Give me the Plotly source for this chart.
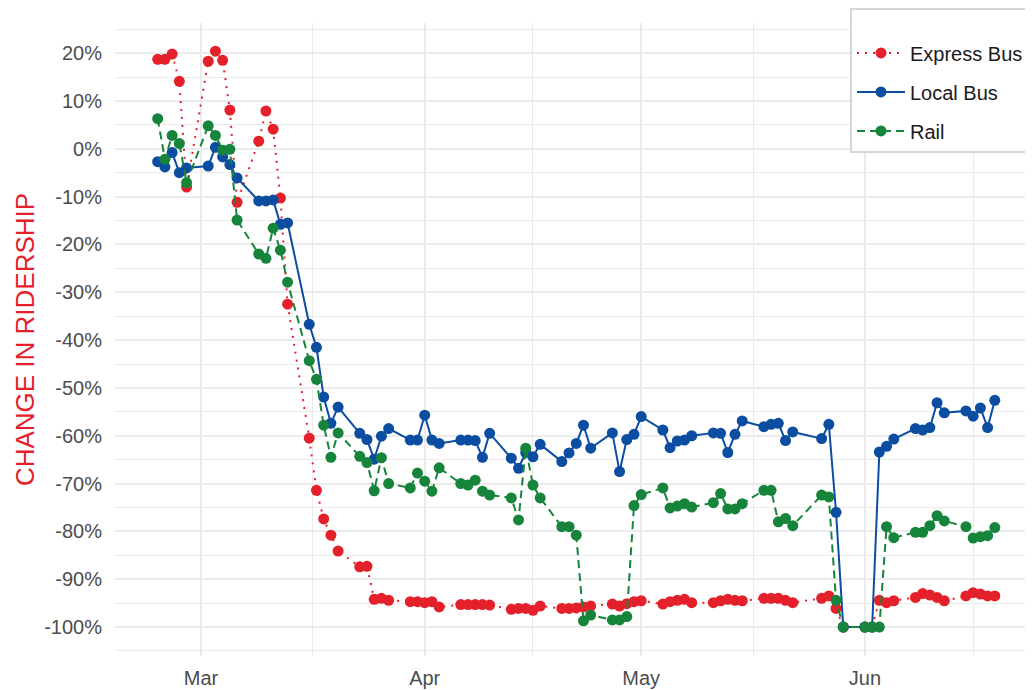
import plotly.graph_objects as go

dates = [
    "2020-02-24", "2020-02-25", "2020-02-26", "2020-02-27", "2020-02-28",
    "2020-03-02", "2020-03-03", "2020-03-04", "2020-03-05", "2020-03-06",
    "2020-03-09", "2020-03-10", "2020-03-11", "2020-03-12", "2020-03-13",
    "2020-03-16", "2020-03-17", "2020-03-18", "2020-03-19", "2020-03-20",
    "2020-03-23", "2020-03-24", "2020-03-25", "2020-03-26", "2020-03-27",
    "2020-03-30", "2020-03-31", "2020-04-01", "2020-04-02", "2020-04-03",
    "2020-04-06", "2020-04-07", "2020-04-08", "2020-04-09", "2020-04-10",
    "2020-04-13", "2020-04-14", "2020-04-15", "2020-04-16", "2020-04-17",
    "2020-04-20", "2020-04-21", "2020-04-22", "2020-04-23", "2020-04-24",
    "2020-04-27", "2020-04-28", "2020-04-29", "2020-04-30", "2020-05-01",
    "2020-05-04", "2020-05-05", "2020-05-06", "2020-05-07", "2020-05-08",
    "2020-05-11", "2020-05-12", "2020-05-13", "2020-05-14", "2020-05-15",
    "2020-05-18", "2020-05-19", "2020-05-20", "2020-05-21", "2020-05-22",
    "2020-05-26", "2020-05-27", "2020-05-28", "2020-05-29",
    "2020-06-01", "2020-06-02", "2020-06-03", "2020-06-04", "2020-06-05",
    "2020-06-08", "2020-06-09", "2020-06-10", "2020-06-11", "2020-06-12",
    "2020-06-15", "2020-06-16", "2020-06-17", "2020-06-18", "2020-06-19",
]

express_bus = [
    18.7, 18.7, 19.8, 14.1, -8.0,
    18.3, 20.4, 18.5, 8.1, -11.2,
    1.6, 7.9, 4.1, -10.3, -32.5,
    -60.5, -71.4, -77.4, -80.8, -84.1,
    -87.4, -87.3, -94.2, -94.0, -94.4,
    -94.7, -94.7, -94.9, -94.7, -95.8,
    -95.3, -95.3, -95.3, -95.3, -95.4,
    -96.3, -96.1, -96.1, -96.5, -95.6,
    -96.1, -96.1, -96.0, -95.8, -95.6,
    -95.2, -95.6, -95.1, -94.7, -94.5,
    -95.2, -94.7, -94.4, -94.2, -94.9,
    -94.9, -94.5, -94.2, -94.4, -94.5,
    -94.0, -94.0, -94.0, -94.4, -94.9,
    -94.0, -93.5, -96.1, -100.0,
    -100.0, -100.0, -94.4, -94.9, -94.5,
    -93.8, -93.0, -93.3, -93.8, -94.5,
    -93.5, -92.8, -93.1, -93.5, -93.5,
]

local_bus = [
    -2.7, -3.8, -0.8, -5.0, -4.0,
    -3.6, 0.3, -1.7, -3.3, -6.1,
    -10.9, -10.9, -10.7, -15.8, -15.5,
    -36.7, -41.5, -51.9, -57.4, -54.0,
    -59.5, -60.8, -64.9, -60.1, -58.5,
    -60.9, -60.9, -55.7, -60.9, -61.6,
    -60.9, -60.9, -61.0, -64.5, -59.5,
    -64.7, -66.8, -63.5, -64.4, -61.8,
    -65.4, -63.6, -61.6, -57.8, -62.6,
    -59.4, -67.5, -60.8, -59.7, -56.0,
    -58.8, -62.5, -61.1, -60.9, -60.0,
    -59.4, -59.5, -63.5, -59.7, -56.9,
    -58.1, -57.6, -57.4, -61.0, -59.2,
    -60.6, -57.6, -76.0, -100.0,
    -100.0, -100.0, -63.4, -62.2, -60.7,
    -58.5, -58.8, -58.3, -53.1, -55.2,
    -54.8, -55.9, -54.2, -58.3, -52.6,
]

rail = [
    6.3, -2.2, 2.8, 1.1, -7.1,
    4.8, 2.8, -0.3, -0.1, -14.9,
    -22.0, -22.9, -16.6, -21.2, -27.9,
    -44.3, -48.2, -57.8, -64.5, -59.4,
    -64.3, -65.6, -71.5, -64.6, -70.0,
    -70.9, -67.8, -69.5, -71.6, -66.7,
    -70.0, -70.3, -69.3, -71.6, -72.4,
    -73.0, -77.6, -62.6, -70.3, -73.0,
    -79.0, -79.0, -80.8, -98.7, -97.5,
    -98.5, -98.5, -97.8, -74.6, -72.3,
    -70.9, -75.1, -74.7, -74.2, -74.9,
    -74.0, -72.1, -75.3, -75.3, -74.2,
    -71.4, -71.4, -78.0, -77.3, -78.8,
    -72.4, -72.8, -94.4, -100.0,
    -100.0, -100.0, -100.0, -79.0, -81.3,
    -80.2, -80.2, -78.8, -76.7, -77.8,
    -79.0, -81.4, -81.1, -80.9, -79.2,
]

y_ticks = [20, 10, 0, -10, -20, -30, -40, -50, -60, -70, -80, -90, -100]
y_tick_labels = [f"{v}%" for v in y_ticks]
y_minor = [25, 15, 5, -5, -15, -25, -35, -45, -55, -65, -75, -85, -95, -105]
x_minor = ["2020-03-16 12:00", "2020-04-16", "2020-05-16 12:00", "2020-06-16"]

series = [
    ("Express Bus", express_bus, "#E4202A", "2px,6px"),
    ("Local Bus", local_bus, "#0B4DA1", "solid"),
    ("Rail", rail, "#17843C", "8px,5px"),
]

fig = go.Figure()
for name, vals, color, dash in series:
    fig.add_trace(go.Scatter(
        x=dates, y=vals, name=name, mode="lines+markers",
        legendgroup=name,
        line=dict(color=color, width=2, dash=dash),
        marker=dict(color=color, size=11),
    ))

FONT = "Liberation Sans, Arial, sans-serif"
GRID = "#EBEBEB"

# The page body adds an 8px offset, so the figure is 8px smaller than the window.
W, H = 1025, 682

fig.update_layout(
    width=W, height=H,
    margin=dict(l=107, r=0, t=15, b=34, autoexpand=False),
    plot_bgcolor="white", paper_bgcolor="white",
    font=dict(family=FONT, size=20, color="#4D4D4D"),
    showlegend=True,
    legend=dict(
        xref="container", yref="container",
        x=842 / W, xanchor="left",
        y=1 + 5 / H, yanchor="top",
        bordercolor="#D6D6D6", borderwidth=2, bgcolor="white",
        font=dict(family=FONT, size=20, color="#1A1A1A"),
        title=dict(text=" ", font=dict(size=18)),
        traceorder="grouped", tracegroupgap=10,
        itemwidth=48,
        entrywidth=200, entrywidthmode="pixels",
    ),
)

fig.update_xaxes(
    type="date", automargin=False,
    range=["2020-02-18 02:00", "2020-06-24 07:00"],
    tick0="2020-03-01", dtick="M1", tickformat="%b",
    showgrid=True, gridcolor=GRID, gridwidth=2,
    zeroline=False, showline=False, ticks="",
    ticklabelstandoff=8,
    tickfont=dict(family=FONT, size=20, color="#4D4D4D"),
    minor=dict(tickvals=x_minor, showgrid=True, gridcolor=GRID, gridwidth=1.2),
)

fig.update_yaxes(
    automargin=False,
    range=[-106.05, 26.3],
    tickvals=y_ticks, ticktext=y_tick_labels,
    showgrid=True, gridcolor=GRID, gridwidth=2,
    zeroline=False, showline=False, ticks="",
    ticklabelstandoff=12,
    tickfont=dict(family=FONT, size=20, color="#4D4D4D"),
    minor=dict(tickvals=y_minor, showgrid=True, gridcolor=GRID, gridwidth=1.2),
    title=dict(text="CHANGE IN RIDERSHIP", standoff=2,
               font=dict(family=FONT, size=26, color="#E4202A")),
)

fig.write_html("out.html")
